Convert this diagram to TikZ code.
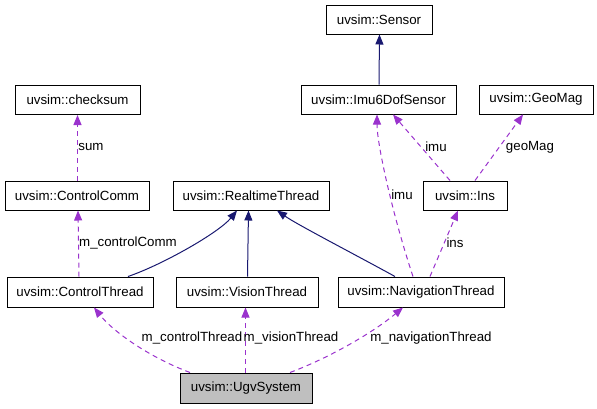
\documentclass[tikz,border=0pt]{standalone}
\usepackage{fontspec}
\setmainfont{Liberation Sans}
\usetikzlibrary{arrows.meta}
\definecolor{inhcol}{HTML}{191970}
\definecolor{usecol}{HTML}{9A32CD}
\definecolor{boxgray}{HTML}{BFBFBF}
\begin{document}
\begin{tikzpicture}[x=1pt,y=-1pt, font=\fontsize{13.3}{16}\selectfont,
  cls/.style={draw=black, line width=1pt, fill=white, minimum height=29pt, inner sep=0pt, anchor=center},
  inhe/.style={draw=inhcol, line width=1pt, -{Triangle[length=10pt,width=8pt]}},
  usee/.style={draw=usecol, line width=1pt, dash pattern=on 5pt off 4pt, -{Triangle[length=10pt,width=8pt]}},
  lbl/.style={inner sep=0pt, anchor=center}]
\useasboundingbox (0,0) rectangle (597,408);

\node[cls, minimum width=125pt] (cs) at (77.5,100) {uvsim::checksum};
\node[cls, minimum width=144pt] (cc) at (77,195.5) {uvsim::ControlComm};
\node[cls, minimum width=156pt] (rt) at (251,195.5) {uvsim::RealtimeThread};
\node[cls, minimum width=106pt] (se) at (379,19.5) {uvsim::Sensor};
\node[cls, minimum width=155pt] (imu) at (378.5,99.5) {uvsim::Imu6DofSensor};
\node[cls, minimum width=114pt] (gm) at (536,99.5) {uvsim::GeoMag};
\node[cls, minimum width=84pt] (ins) at (465,195.5) {uvsim::Ins};
\node[cls, minimum width=146pt, minimum height=30pt] (ct) at (80,292) {uvsim::ControlThread};
\node[cls, minimum width=142pt, minimum height=30pt] (vt) at (247,292) {uvsim::VisionThread};
\node[cls, minimum width=166pt, minimum height=30pt] (nt) at (421,292) {uvsim::NavigationThread};
\node[cls, fill=boxgray, minimum width=132pt, minimum height=30pt] (ug) at (246,388) {uvsim::UgvSystem};

% inheritance
\draw[inhe] ([xshift=0.5pt]imu.north) -- ([xshift=0.5pt]se.south);
\draw[inhe] ([xshift=48pt]ct.north) .. controls +(35,-12) and +(-18,22) .. ([xshift=-14pt]rt.south);
\draw[inhe] ([xshift=0.5pt]vt.north) -- ([xshift=-2.5pt]rt.south);
\draw[inhe] ([xshift=-26pt]nt.north) .. controls +(-40,-22) and +(20,14) .. ([xshift=26pt]rt.south);

% usage
\draw[usee] ([xshift=0.5pt]cc.north) -- ([xshift=0.5pt]cc.north |- cs.south);
\draw[usee] ([xshift=-1pt]ct.north) -- ([xshift=1pt]cc.south);
\draw[usee] ([xshift=-8pt]nt.north) .. controls +(-20,-60) and +(0,30) .. ([xshift=-1.5pt]imu.south);
\draw[usee] ([xshift=-15pt]ins.north) -- ([xshift=14.5pt]imu.south);
\draw[usee] ([xshift=10pt]ins.north) -- ([xshift=-13pt]gm.south);
\draw[usee] ([xshift=9pt]nt.north) -- ([xshift=-7pt]ins.south);
\draw[usee] ([xshift=-56pt]ug.north) .. controls +(-40,-15) and +(20,25) .. ([xshift=14pt]ct.south);
\draw[usee] ([xshift=-0.5pt]ug.north) -- ([xshift=-1.5pt]vt.south);
\draw[usee] ([xshift=44pt]ug.north) .. controls +(40,-15) and +(-30,25) .. ([xshift=-18pt]nt.south);

% labels
\node[lbl] (lsum) at (91,147) {sum};
\node[lbl] (lcc) at (128,243) {m\_controlComm};
\node[lbl] (lct) at (192,338) {m\_controlThread};
\node[lbl] (lvt) at (291,338) {m\_visionThread};
\node[lbl] (lnt) at (431,338) {m\_navigationThread};
\node[lbl] (lins) at (455,243) {ins};
\node[lbl] (limua) at (402,195) {imu};
\node[lbl] (limub) at (436,147) {imu};
\node[lbl] (lgm) at (530,147) {geoMag};
\end{tikzpicture}
\end{document}
